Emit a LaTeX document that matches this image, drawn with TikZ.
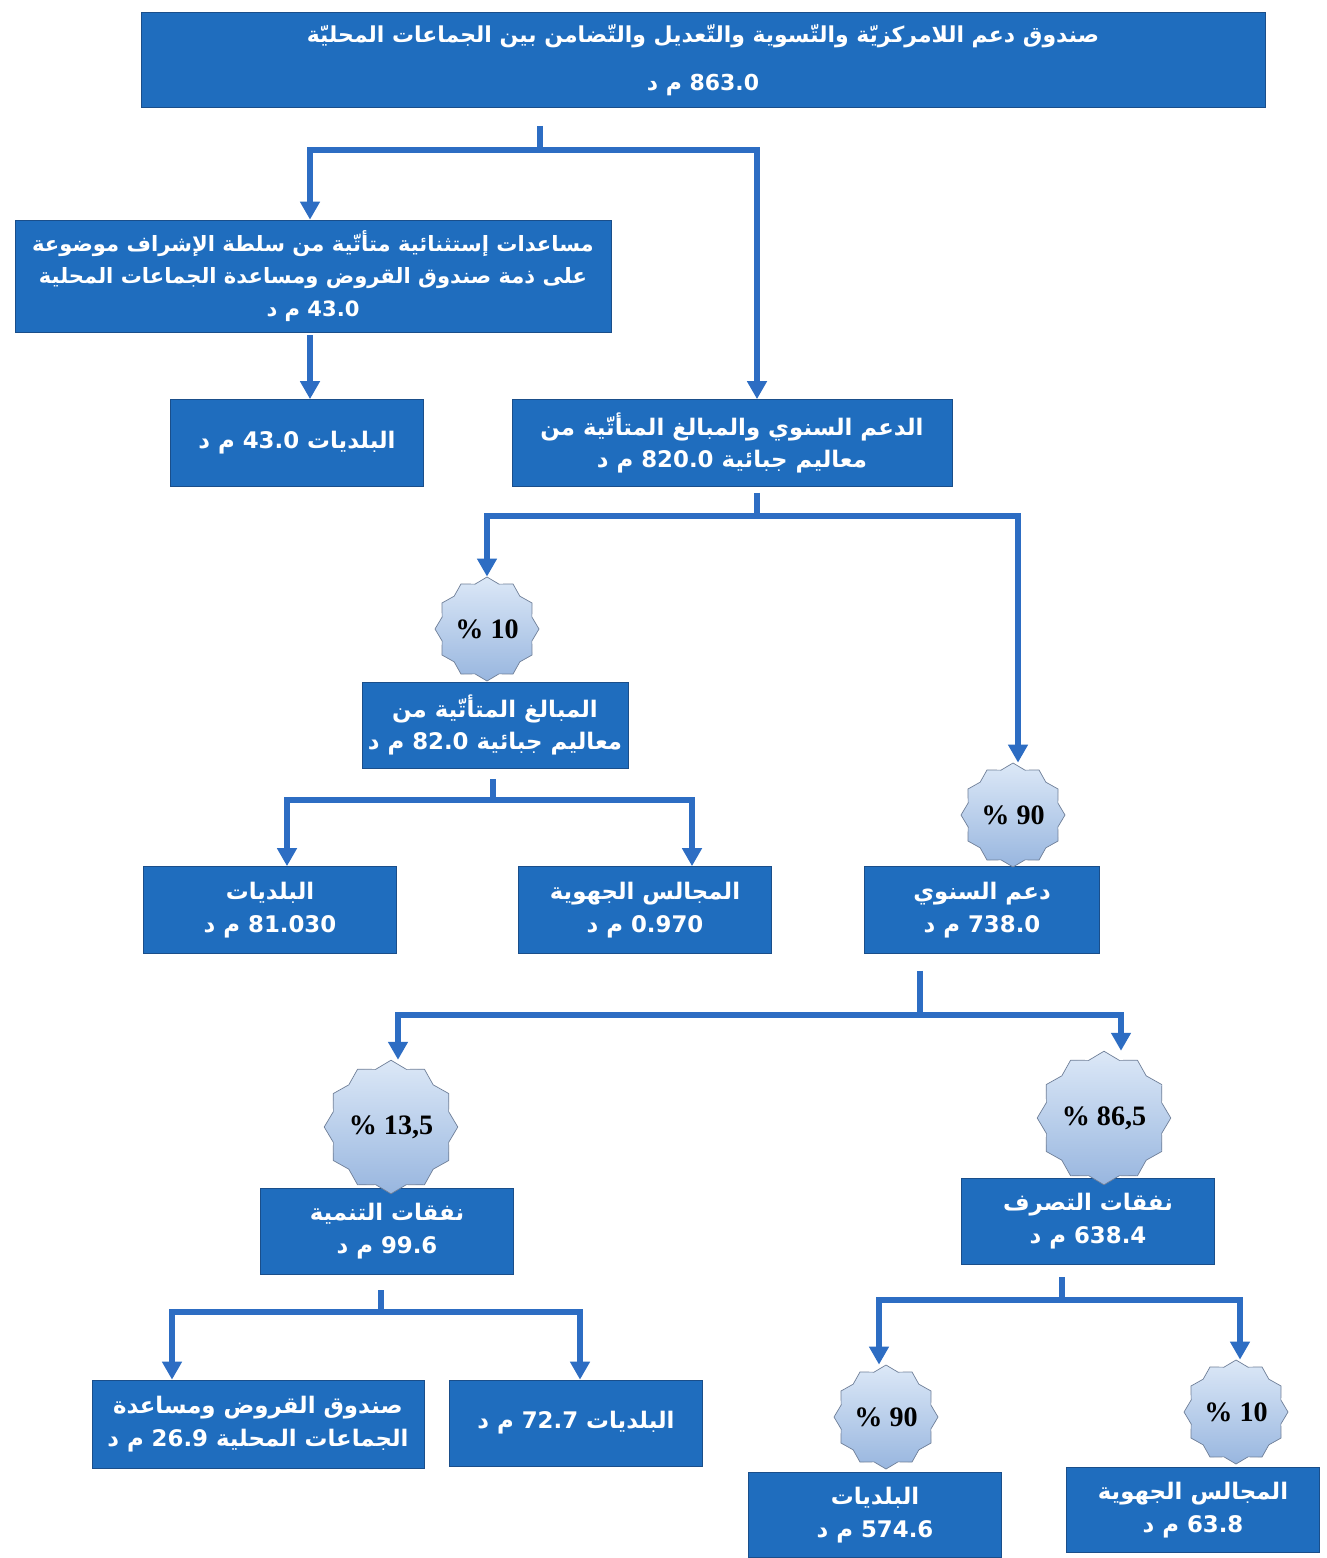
\documentclass[tikz,border=0pt]{standalone}
\usepackage{fontspec}
\usetikzlibrary{arrows.meta,shapes.geometric}
\TeXXeTstate=1
\newfontfamily\arabicfont[Script=Arabic]{DejaVu Sans}
\newfontfamily\starfont{Liberation Serif}
\definecolor{boxblue}{HTML}{1F6DBE}
\definecolor{boxline}{HTML}{1A4E8A}
\definecolor{linkblue}{HTML}{2D6DC3}
\definecolor{starline}{HTML}{6F7F98}
\definecolor{startop}{HTML}{DCE8F7}
\definecolor{starbot}{HTML}{98B6DF}
\newcommand{\artxt}[1]{\beginR #1\endR}
\newcommand{\lrnum}[1]{\beginL #1\endL{}}
\begin{document}
\begin{tikzpicture}[x=0.2mm, y=-0.2mm,
  box/.style={draw=boxline, fill=boxblue, text=white, align=center, inner sep=1pt,
    minimum width=50.6mm, minimum height=17.4mm,
    font=\arabicfont\bfseries\fontsize{13}{18.5}\selectfont},
  burst/.style={star, star points=12, star point ratio=1.12, draw=starline,
    top color=startop, bottom color=starbot, inner sep=0pt,
    font=\starfont\bfseries\fontsize{16}{16}\selectfont},
  bar/.style={draw=linkblue, line width=1.1mm},
  arr/.style={bar, -{Triangle[width=3.8mm,length=3.6mm]}}]

\fill[white] (0,0) rectangle (1326,1558);
\useasboundingbox (0,0) rectangle (1326,1558);

\node[box, minimum width=224.8mm, minimum height=19mm, font=\arabicfont\bfseries\fontsize{12.5}{18}\selectfont] (top) at (703,60)
  {\artxt{صندوق دعم اللامركزيّة والتّسوية والتّعديل والتّضامن بين الجماعات المحليّة}\\[3.2mm]
   \artxt{\lrnum{863.0} م د}};

\node[box, minimum width=119.2mm, minimum height=22.4mm, font=\arabicfont\bfseries\fontsize{12}{18.5}\selectfont] (aid) at (313,276)
  {\artxt{مساعدات إستثنائية متأتّية من سلطة الإشراف موضوعة}\\
   \artxt{على ذمة صندوق القروض ومساعدة الجماعات المحلية}\\
   \artxt{\lrnum{43.0} م د}};
\node[box] (mun1) at (297,443) {\artxt{البلديات \lrnum{43.0} م د}};
\node[box, minimum width=88mm] (annual) at (732,443)
  {\artxt{الدعم السنوي والمبالغ المتأتّية من}\\
   \artxt{معاليم جبائية \lrnum{820.0} م د}};

\node[box, minimum width=53.2mm, minimum height=17.2mm] (taxes) at (495,725)
  {\artxt{المبالغ المتأتّية من}\\ \artxt{معاليم جبائية \lrnum{82.0} م د}};
\node[box] (mun2) at (270,910) {\artxt{البلديات}\\ \artxt{\lrnum{81.030} م د}};
\node[box] (reg1) at (645,910) {\artxt{المجالس الجهوية}\\ \artxt{\lrnum{0.970} م د}};
\node[box, minimum width=47mm] (yearly) at (982,910) {\artxt{دعم السنوي}\\ \artxt{\lrnum{738.0} م د}};

\node[box, minimum height=17.2mm] (devel) at (387,1231) {\artxt{نفقات التنمية}\\ \artxt{\lrnum{99.6} م د}};
\node[box, minimum height=17.2mm] (oper) at (1088,1221) {\artxt{نفقات التصرف}\\ \artxt{\lrnum{638.4} م د}};

\node[box, minimum width=66.4mm, minimum height=17.6mm] (fund) at (258,1424)
  {\artxt{صندوق القروض ومساعدة}\\ \artxt{الجماعات المحلية \lrnum{26.9} م د}};
\node[box, minimum height=17.2mm] (mun3) at (576,1423) {\artxt{البلديات \lrnum{72.7} م د}};
\node[box, minimum height=17mm] (mun4) at (875,1515) {\artxt{البلديات}\\ \artxt{\lrnum{574.6} م د}};
\node[box, minimum height=17mm] (reg2) at (1193,1510) {\artxt{المجالس الجهوية}\\ \artxt{\lrnum{63.8} م د}};

\foreach \n/\x/\y/\r/\t in {st10/487/629/52/10, st90/1013/815/52/90, st135/391/1127/60/{13,5},
    st865/1104/1118/60/{86,5}, st90b/886/1417/52/90, st10b/1236/1412/52/10}{
  \node[burst, minimum size=\r*0.4mm] (\n) at (\x,\y) {\% \t};
}

\coordinate (j1) at (540,150); \coordinate (l1) at (310,150); \coordinate (r1) at (757,150);
\draw[bar] ([yshift=-3.6mm]top.south -| j1) -- (j1);
\draw[arr] (j1) -| (l1 |- aid.north);
\draw[arr] (j1) -| (r1 |- annual.north);
\draw[arr] ([yshift=-0.6mm]aid.south -| l1) -- (l1 |- mun1.north);

\coordinate (j2) at (757,516); \coordinate (l2) at (487,516); \coordinate (r2) at (1018,516);
\draw[bar] ([yshift=-1.2mm]annual.south -| j2) -- (j2);
\draw[arr] (j2) -| (l2 |- st10.north);
\draw[arr] (j2) -| (r2 |- st90.north);

\coordinate (j3) at (493,800); \coordinate (l3) at (287,800); \coordinate (r3) at (692,800);
\draw[bar] ([yshift=-2.2mm]taxes.south -| j3) -- (j3);
\draw[arr] (j3) -| (l3 |- mun2.north);
\draw[arr] (j3) -| (r3 |- reg1.north);

\coordinate (j4) at (920,1015); \coordinate (l4) at (398,1015); \coordinate (r4) at (1121,1015);
\draw[bar] ([yshift=-3.4mm]yearly.south -| j4) -- (j4);
\draw[arr] (j4) -| (l4 |- st135.north);
\draw[arr] (j4) -| (r4 |- st865.north);

\coordinate (j5) at (381,1312); \coordinate (l5) at (172,1312); \coordinate (r5) at (580,1312);
\draw[bar] ([yshift=-3.2mm]devel.south -| j5) -- (j5);
\draw[arr] (j5) -| (l5 |- fund.north);
\draw[arr] (j5) -| (r5 |- mun3.north);

\coordinate (j6) at (1062,1300); \coordinate (l6) at (879,1300); \coordinate (r6) at (1240,1300);
\draw[bar] ([yshift=-2.6mm]oper.south -| j6) -- (j6);
\draw[arr] (j6) -| (l6 |- st90b.north);
\draw[arr] (j6) -| (r6 |- st10b.north);
\end{tikzpicture}
\end{document}
